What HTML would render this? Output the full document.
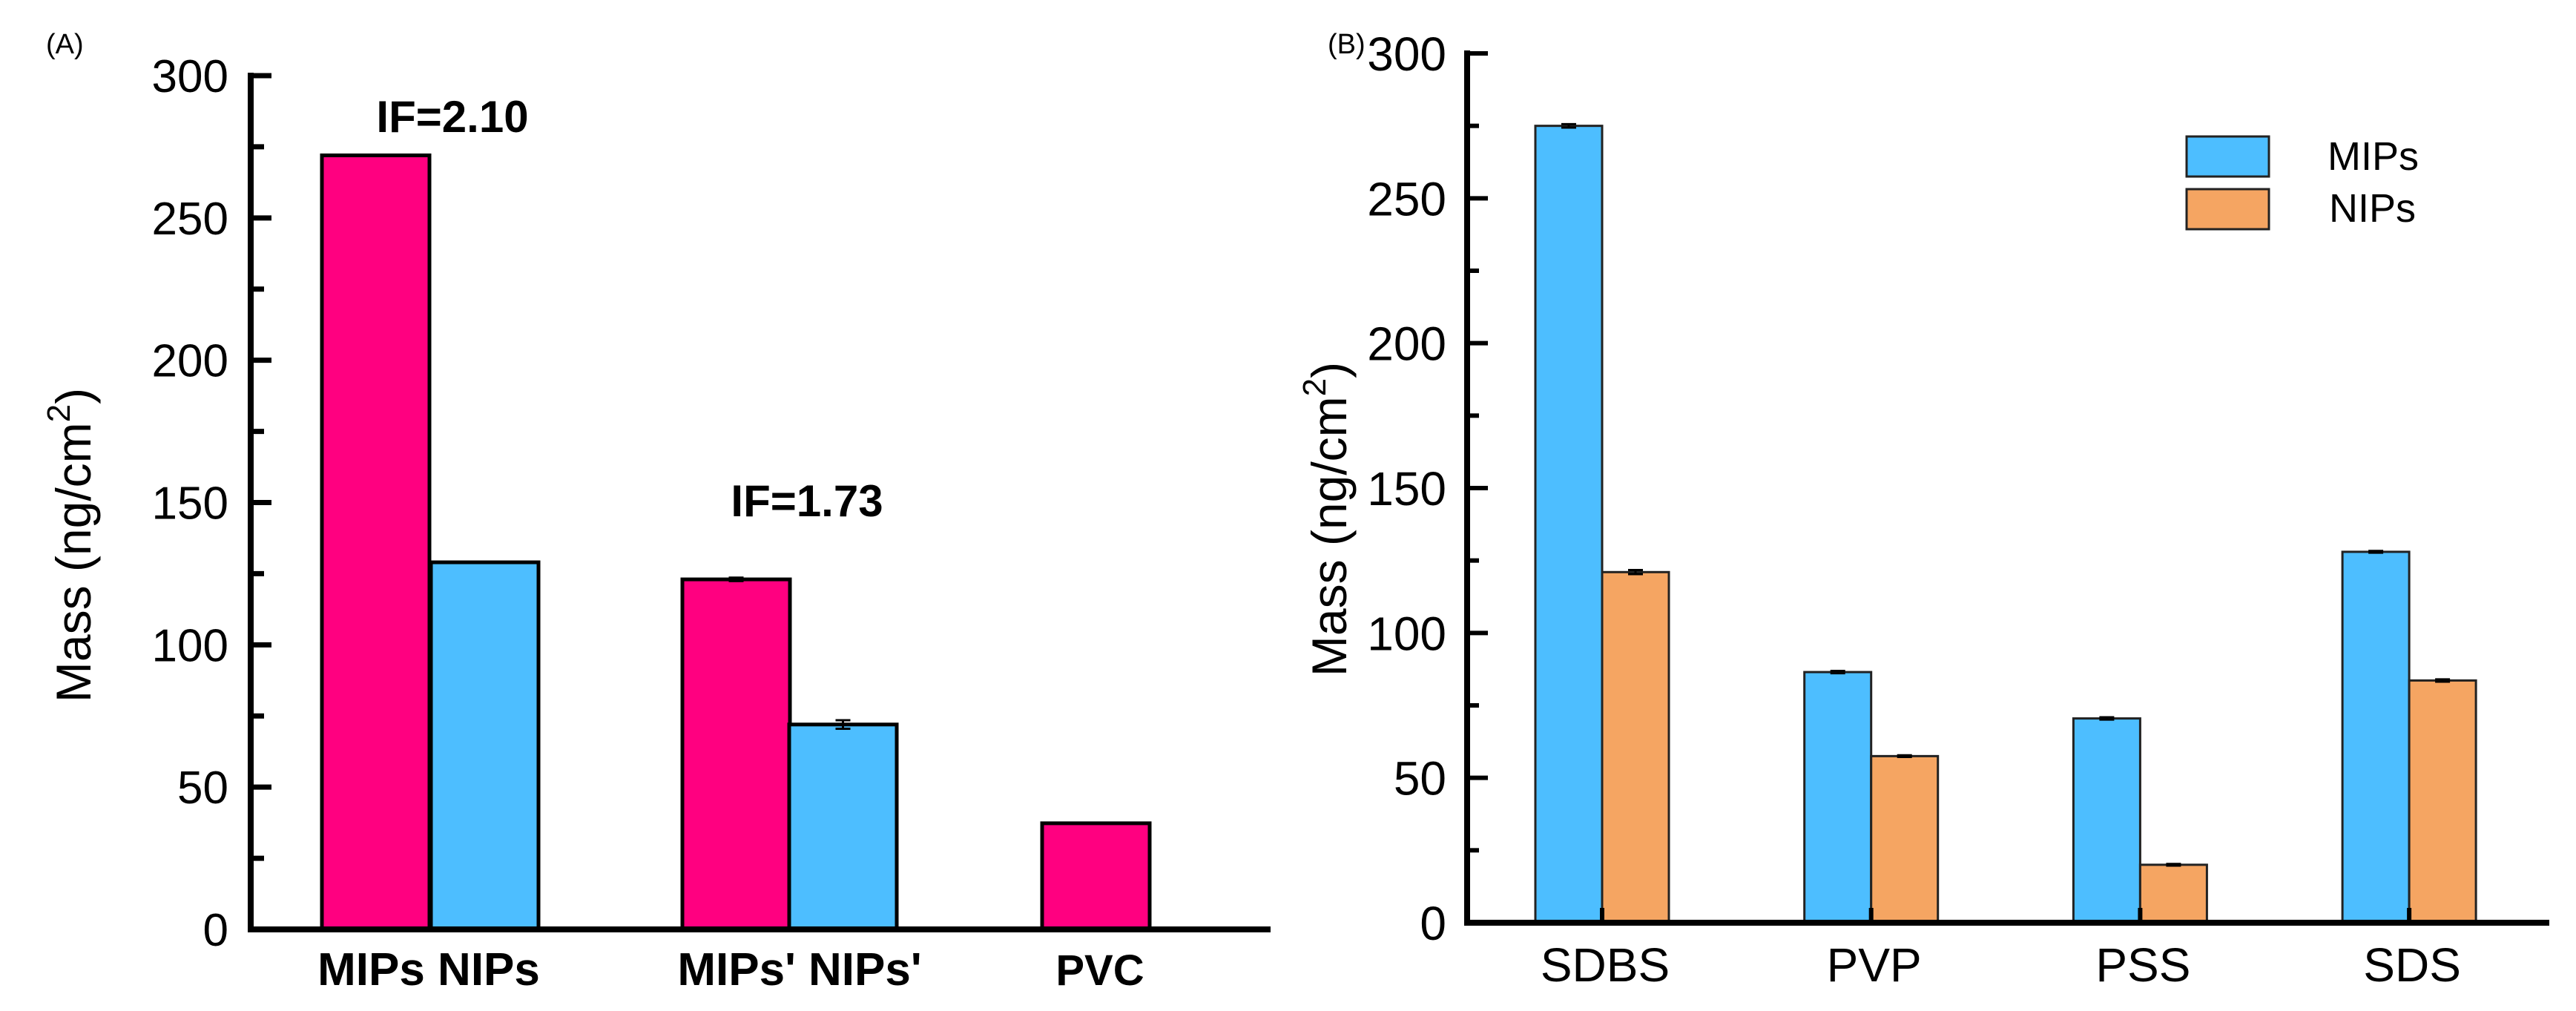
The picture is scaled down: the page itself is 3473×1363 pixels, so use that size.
<!DOCTYPE html>
<html><head><meta charset="utf-8"><style>
html,body{margin:0;padding:0;background:#fff}
svg{display:block;font-family:"Liberation Sans",Arial,sans-serif}
</style></head><body>
<svg id="chart" width="3473" height="1363" viewBox="0 0 3473 1363" xmlns="http://www.w3.org/2000/svg">
<g id="pa"></g>
<g id="pb"></g>
</svg>
<script>
// Panel A data
const aLabels = ["MIPs", "NIPs", "MIPs'", "NIPs'", "PVC"];
const aValues = [272, 129, 123, 72, 37.3];
const aErrors = [0, 0, 0.6, 1.5, 0];
const aColors = ["#FF0080", "#4DBEFF", "#FF0080", "#4DBEFF", "#FF0080"];
const aAnnot = ["IF=2.10", "IF=1.73"];
// Panel B data
const bCategories = ["SDBS", "PVP", "PSS", "SDS"];
const bMIPs = [275, 86.5, 70.5, 128];
const bNIPs = [121, 57.5, 20, 83.6];
const bMIPsErr = [0.6, 0.4, 0.4, 0.3];
const bNIPsErr = [0.7, 0.3, 0.3, 0.4];
const yTicks = [0, 50, 100, 150, 200, 250, 300];

const NS = "http://www.w3.org/2000/svg";
function mk(parent, tag, attrs, text){
  const e = document.createElementNS(NS, tag);
  for (const k in attrs) e.setAttribute(k, attrs[k]);
  if (text !== undefined) e.textContent = text;
  parent.appendChild(e);
  return e;
}

// ---------- Panel A ----------
(function(){
  const g = document.getElementById('pa');
  const x0 = 338, xEnd = 1709, y0 = 1253, yTop = 102;
  const ys = v => y0 - v * (y0 - yTop) / 300;
  const aLeft = [434, 581, 920, 1064, 1405];
  const bw = 145;
  aValues.forEach((v, i) => {
    const r = mk(g, 'rect', {x: aLeft[i], y: ys(v), width: bw, height: y0 - ys(v), fill: aColors[i], stroke: '#000', 'stroke-width': 5});
    
    
    if (aErrors[i] > 0) {
      const cx = aLeft[i] + bw / 2;
      const eb = mk(g, 'path', {d: `M${cx-10},${ys(v+aErrors[i])}H${cx+10}M${cx},${ys(v+aErrors[i])}V${ys(v-aErrors[i])}M${cx-10},${ys(v-aErrors[i])}H${cx+10}`, stroke: '#000', 'stroke-width': 3, fill: 'none'});
      
      
    }
  });
  const ax = mk(g, 'path', {d: `M${x0},${yTop}V${y0}H${xEnd}`, stroke: '#000', 'stroke-width': 8, fill: 'none', 'stroke-linecap': 'square'});
  
  
  for (let v = 0; v <= 300; v += 25) {
    const major = v % 50 === 0;
    const t = mk(g, 'line', {x1: x0, x2: x0 + (major ? 28 : 18), y1: ys(v), y2: ys(v), stroke: '#000', 'stroke-width': 7});
    
    
  }
  yTicks.forEach(v => {
    const t = mk(g, 'text', {x: 308, y: ys(v) + 22, 'text-anchor': 'end', 'font-size': 62}, String(v));
    
    
  });
  const tt = mk(g, 'text', {transform: 'translate(122,735) rotate(-90)', 'text-anchor': 'middle', 'font-size': 66}, '');
  
  
  tt.innerHTML = 'Mass (ng/cm<tspan dy="-28" font-size="44">2</tspan><tspan dy="28">)</tspan>';
  const lab = mk(g, 'text', {x: 62, y: 72, 'font-size': 38}, '(A)');
  
  
  const xl = [["MIPs NIPs", 578, 62], ["MIPs' NIPs'", 1078, 62], ["PVC", 1483, 58]];
  xl.forEach(([s, cx, fs]) => {
    const t = mk(g, 'text', {x: cx, y: 1328, 'text-anchor': 'middle', 'font-size': fs, 'font-weight': 'bold'}, s);
    
    
  });
  const an1 = mk(g, 'text', {x: 610, y: 178, 'text-anchor': 'middle', 'font-size': 60, 'font-weight': 'bold'}, aAnnot[0]);
  
  
  const an2 = mk(g, 'text', {x: 1088, y: 696, 'text-anchor': 'middle', 'font-size': 60, 'font-weight': 'bold'}, aAnnot[1]);
  
  
})();

// ---------- Panel B ----------
(function(){
  const g = document.getElementById('pb');
  const x0 = 1978, xEnd = 3433, y0 = 1244, yTop = 72;
  const ys = v => y0 - v * (y0 - yTop) / 300;
  const groupStart = 2070, groupStep = 362.7, bw = 90;
  bCategories.forEach((c, i) => {
    const gx = groupStart + i * groupStep;
    [[bMIPs, bMIPsErr, '#4DBEFF', 'mips'], [bNIPs, bNIPsErr, '#F5A562', 'nips']].forEach(([vals, errs, col, nm], j) => {
      const v = vals[i];
      const x = gx + j * bw;
      const r = mk(g, 'rect', {x: x, y: ys(v), width: bw, height: y0 - ys(v), fill: col, stroke: '#222', 'stroke-width': 3});
      
      
      const cx = x + bw / 2, e = errs[i];
      const eb = mk(g, 'path', {d: `M${cx-10},${ys(v+e)}H${cx+10}M${cx},${ys(v+e)}V${ys(v-e)}M${cx-10},${ys(v-e)}H${cx+10}`, stroke: '#000', 'stroke-width': 3, fill: 'none'});
      
      
    });
    const tk = mk(g, 'line', {x1: gx + bw, x2: gx + bw, y1: y0, y2: y0 - 20, stroke: '#000', 'stroke-width': 6});
    
    
    const t = mk(g, 'text', {x: gx + bw + 4, y: 1323, 'text-anchor': 'middle', 'font-size': 64}, c);
    
    
  });
  const ax = mk(g, 'path', {d: `M${x0},${yTop}V${y0}H${xEnd}`, stroke: '#000', 'stroke-width': 8, fill: 'none', 'stroke-linecap': 'square'});
  
  
  for (let v = 0; v <= 300; v += 25) {
    const major = v % 50 === 0;
    const t = mk(g, 'line', {x1: x0, x2: x0 + (major ? 28 : 16), y1: ys(v), y2: ys(v), stroke: '#000', 'stroke-width': 6});
    
    
  }
  yTicks.forEach(v => {
    const t = mk(g, 'text', {x: 1950, y: ys(v) + 23, 'text-anchor': 'end', 'font-size': 64}, String(v));
    
    
  });
  const tt = mk(g, 'text', {transform: 'translate(1815,700) rotate(-90)', 'text-anchor': 'middle', 'font-size': 66}, '');
  
  
  tt.innerHTML = 'Mass (ng/cm<tspan dy="-28" font-size="44">2</tspan><tspan dy="28">)</tspan>';
  const lab = mk(g, 'text', {x: 1790, y: 72, 'font-size': 38}, '(B)');
  
  
  const l1 = mk(g, 'rect', {x: 2948, y: 184, width: 111, height: 54, fill: '#4DBEFF', stroke: '#222', 'stroke-width': 3});
  
  
  const l2 = mk(g, 'rect', {x: 2948, y: 255, width: 111, height: 54, fill: '#F5A562', stroke: '#222', 'stroke-width': 3});
  
  
  const t1 = mk(g, 'text', {x: 3138, y: 229, 'font-size': 54}, 'MIPs');
  
  
  const t2 = mk(g, 'text', {x: 3140, y: 299, 'font-size': 54}, 'NIPs');
  
  
})();
</script>
</body></html>
